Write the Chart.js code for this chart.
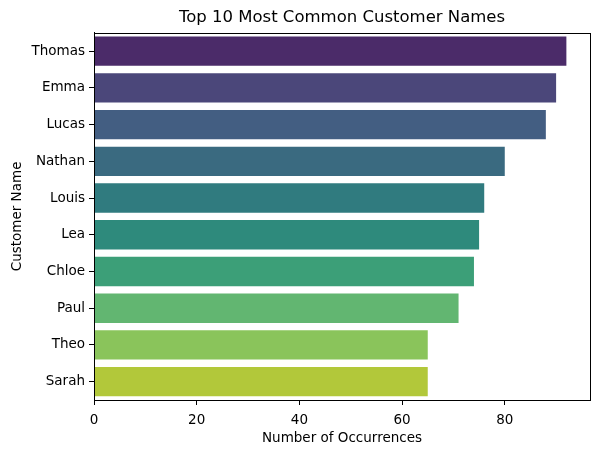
<!DOCTYPE html>
<html>
<head>
<meta charset="utf-8">
<script src="https://cdn.jsdelivr.net/npm/chart.js@4.4.1/dist/chart.umd.min.js"></script>
<style>
  html, body { margin: 0; padding: 0; background: #fff; }
  #wrap { width: 600px; height: 455px; }
</style>
</head>
<body>
<div id="wrap"><canvas id="chart" width="600" height="455"></canvas></div>
<script>
// datos del gráfico
const names = ["Thomas", "Emma", "Lucas", "Nathan", "Louis", "Lea", "Chloe", "Paul", "Theo", "Sarah"];
const counts = [92, 90, 88, 80, 76, 75, 74, 71, 65, 65];
const barColors = ["#4b2b69", "#4b477a", "#435e82", "#3a6a80", "#307b7f", "#2e8a7c", "#3c9f78", "#62b671", "#8ac45b", "#b2c83a"];
const xTicks = [0, 20, 40, 60, 80];

const font = "'DejaVu Sans', sans-serif";

// marco negro alrededor del área del gráfico y título centrado sobre los ejes
const framePlugin = {
  id: 'frame',
  afterLayout(chart) {
    const a = chart.chartArea;
    if (chart.titleBlock) {
      chart.titleBlock.left = a.left;
      chart.titleBlock.right = a.right;
    }
  },
  afterDraw(chart) {
    const { ctx, chartArea: a } = chart;
    ctx.save();
    ctx.strokeStyle = '#000';
    ctx.lineWidth = 1;
    ctx.strokeRect(Math.round(a.left) + 0.5, Math.round(a.top) + 0.5,
      Math.round(a.right - a.left), Math.round(a.bottom - a.top));
    ctx.restore();
  }
};

new Chart(document.getElementById("chart").getContext("2d"), {
  type: 'bar',
  data: {
    labels: names,
    datasets: [{
      data: counts,
      backgroundColor: barColors,
      borderWidth: 0,
      categoryPercentage: 0.8,
      barPercentage: 1.0
    }]
  },
  options: {
    indexAxis: 'y',
    responsive: false,
    animation: false,
    layout: { padding: { left: 0, right: 10, top: 0, bottom: 0 } },
    plugins: {
      legend: { display: false },
      tooltip: { enabled: false },
      title: {
        display: true,
        text: 'Top 10 Most Common Customer Names',
        color: '#000',
        font: { family: font, size: 16.5, weight: 'normal' },
        padding: { top: 8, bottom: 5 }
      }
    },
    scales: {
      x: {
        min: 0,
        max: 96.6,
        afterBuildTicks: s => { s.ticks = xTicks.map(v => ({ value: v })); },
        afterFit: s => { s.height = 55; },
        grid: { display: true, drawOnChartArea: false, drawTicks: true, tickLength: 5, color: '#000', tickColor: '#000' },
        border: { display: true, color: '#000' },
        ticks: { color: '#000', font: { family: font, size: 13.5 }, padding: 7, maxRotation: 0 },
        title: {
          display: true,
          text: 'Number of Occurrences',
          color: '#000',
          font: { family: font, size: 13.5 },
          padding: { top: 0, bottom: 8 }
        }
      },
      y: {
        afterFit: s => { s.width = 94; },
        grid: { display: true, offset: false, drawOnChartArea: false, drawTicks: true, tickLength: 5, color: '#000', tickColor: '#000' },
        border: { display: true, color: '#000' },
        ticks: { color: '#000', font: { family: font, size: 13.5 }, padding: 4 },
        title: {
          display: true,
          text: 'Customer Name',
          color: '#000',
          font: { family: font, size: 13.5 },
          padding: { top: 9, bottom: 0 }
        }
      }
    }
  },
  plugins: [framePlugin]
});
</script>
</body>
</html>
